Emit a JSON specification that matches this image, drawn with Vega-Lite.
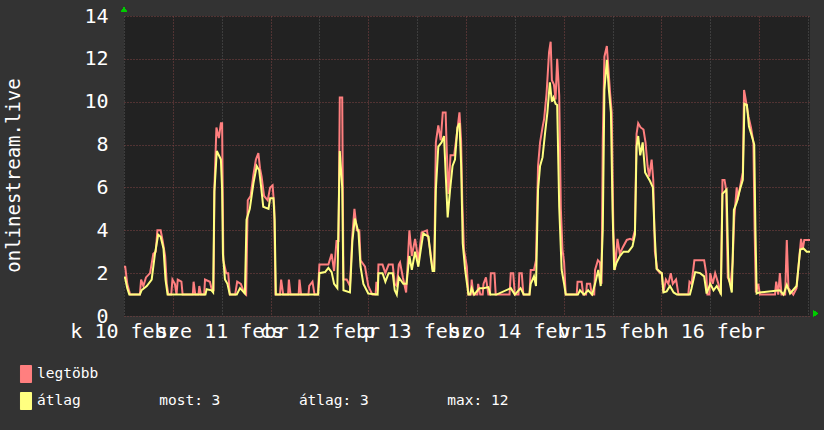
{
"$schema": "https://vega.github.io/schema/vega-lite/v6.json",
"width": 686,
"height": 300,
"autosize": {"type": "none"},
"padding": {"left": 124, "top": 16, "right": 14, "bottom": 114},
"background": "#333333",
"config": {"view": {"fill": "#222222", "stroke": null}, "font": "DejaVu Sans Mono"},
"data": {"values": [
{"s":"legtöbb","h":0,"v":2.3},{"s":"legtöbb","h":0.3,"v":2.3},{"s":"legtöbb","h":0.8,"v":1.5},{"s":"legtöbb","h":1.5,"v":1},{"s":"legtöbb","h":3.9,"v":1},{"s":"legtöbb","h":4.2,"v":1.7},{"s":"legtöbb","h":4.75,"v":1.4},{"s":"legtöbb","h":5.4,"v":1.8},{"s":"legtöbb","h":6.4,"v":2.0},{"s":"legtöbb","h":7.2,"v":2.9},{"s":"legtöbb","h":7.8,"v":3.0},{"s":"legtöbb","h":8.2,"v":4.0},{"s":"legtöbb","h":9.0,"v":4.0},{"s":"legtöbb","h":9.5,"v":3.5},{"s":"legtöbb","h":10.1,"v":2.8},{"s":"legtöbb","h":10.5,"v":1.5},{"s":"legtöbb","h":10.9,"v":1},{"s":"legtöbb","h":11.6,"v":1},{"s":"legtöbb","h":11.9,"v":1.7},{"s":"legtöbb","h":12.5,"v":1.5},{"s":"legtöbb","h":12.9,"v":1},{"s":"legtöbb","h":13.2,"v":1.7},{"s":"legtöbb","h":14.1,"v":1.6},{"s":"legtöbb","h":14.4,"v":1},{"s":"legtöbb","h":16.9,"v":1},{"s":"legtöbb","h":17.1,"v":1.6},{"s":"legtöbb","h":17.5,"v":1},{"s":"legtöbb","h":18.3,"v":1},{"s":"legtöbb","h":18.5,"v":1.4},{"s":"legtöbb","h":18.9,"v":1},{"s":"legtöbb","h":19.7,"v":1},{"s":"legtöbb","h":19.9,"v":1.7},{"s":"legtöbb","h":21.1,"v":1.6},{"s":"legtöbb","h":21.6,"v":1.2},{"s":"legtöbb","h":22.0,"v":1.2},{"s":"legtöbb","h":22.2,"v":5.9},{"s":"legtöbb","h":22.7,"v":8.8},{"s":"legtöbb","h":23.3,"v":8.3},{"s":"legtöbb","h":23.8,"v":9.0},{"s":"legtöbb","h":24.1,"v":9.0},{"s":"legtöbb","h":24.4,"v":2.6},{"s":"legtöbb","h":25.1,"v":2.0},{"s":"legtöbb","h":25.6,"v":2.0},{"s":"legtöbb","h":26.0,"v":1},{"s":"legtöbb","h":27.3,"v":1},{"s":"legtöbb","h":27.8,"v":1.6},{"s":"legtöbb","h":28.7,"v":1.5},{"s":"legtöbb","h":29.5,"v":1.1},{"s":"legtöbb","h":30.0,"v":1},{"s":"legtöbb","h":30.4,"v":5.4},{"s":"legtöbb","h":31.1,"v":5.6},{"s":"legtöbb","h":31.8,"v":6.6},{"s":"legtöbb","h":32.4,"v":7.3},{"s":"legtöbb","h":33.0,"v":7.6},{"s":"legtöbb","h":33.4,"v":6.9},{"s":"legtöbb","h":33.8,"v":6.5},{"s":"legtöbb","h":34.4,"v":5.6},{"s":"legtöbb","h":35.3,"v":5.4},{"s":"legtöbb","h":35.9,"v":6.0},{"s":"legtöbb","h":36.5,"v":6.1},{"s":"legtöbb","h":36.9,"v":5.1},{"s":"legtöbb","h":37.2,"v":1},{"s":"legtöbb","h":38.3,"v":1},{"s":"legtöbb","h":38.6,"v":1.7},{"s":"legtöbb","h":39.1,"v":1},{"s":"legtöbb","h":40.3,"v":1},{"s":"legtöbb","h":40.5,"v":1.7},{"s":"legtöbb","h":40.9,"v":1},{"s":"legtöbb","h":42.9,"v":1},{"s":"legtöbb","h":43.1,"v":1.7},{"s":"legtöbb","h":43.5,"v":1},{"s":"legtöbb","h":45.3,"v":1},{"s":"legtöbb","h":45.5,"v":1.4},{"s":"legtöbb","h":46.3,"v":1.6},{"s":"legtöbb","h":46.8,"v":1},{"s":"legtöbb","h":47.6,"v":1},{"s":"legtöbb","h":48.0,"v":2.4},{"s":"legtöbb","h":49.0,"v":2.4},{"s":"legtöbb","h":50.2,"v":2.4},{"s":"legtöbb","h":51.0,"v":2.9},{"s":"legtöbb","h":51.6,"v":2.1},{"s":"legtöbb","h":52.2,"v":3.5},{"s":"legtöbb","h":52.7,"v":3.5},{"s":"legtöbb","h":53.0,"v":10.2},{"s":"legtöbb","h":53.6,"v":10.2},{"s":"legtöbb","h":53.9,"v":1.7},{"s":"legtöbb","h":54.7,"v":1.7},{"s":"legtöbb","h":55.5,"v":1.4},{"s":"legtöbb","h":56.1,"v":3.8},{"s":"legtöbb","h":56.6,"v":5.0},{"s":"legtöbb","h":57.2,"v":4.0},{"s":"legtöbb","h":57.8,"v":4.0},{"s":"legtöbb","h":58.1,"v":2.6},{"s":"legtöbb","h":59.2,"v":2.3},{"s":"legtöbb","h":60.0,"v":1.4},{"s":"legtöbb","h":61.0,"v":1},{"s":"legtöbb","h":61.8,"v":1},{"s":"legtöbb","h":62.0,"v":1.6},{"s":"legtöbb","h":62.3,"v":1.2},{"s":"legtöbb","h":62.5,"v":2.4},{"s":"legtöbb","h":63.5,"v":2.4},{"s":"legtöbb","h":64.2,"v":2.0},{"s":"legtöbb","h":65.0,"v":2.4},{"s":"legtöbb","h":66.0,"v":2.4},{"s":"legtöbb","h":66.5,"v":1.5},{"s":"legtöbb","h":67.0,"v":1.4},{"s":"legtöbb","h":67.5,"v":2.4},{"s":"legtöbb","h":67.8,"v":2.5},{"s":"legtöbb","h":68.5,"v":1.8},{"s":"legtöbb","h":69.3,"v":1.1},{"s":"legtöbb","h":70.1,"v":4.0},{"s":"legtöbb","h":70.7,"v":2.8},{"s":"legtöbb","h":71.5,"v":3.6},{"s":"legtöbb","h":72.3,"v":2.6},{"s":"legtöbb","h":73.1,"v":3.9},{"s":"legtöbb","h":74.4,"v":4.0},{"s":"legtöbb","h":75.2,"v":3.1},{"s":"legtöbb","h":75.8,"v":2.2},{"s":"legtöbb","h":76.2,"v":2.2},{"s":"legtöbb","h":76.6,"v":8.1},{"s":"legtöbb","h":77.2,"v":8.9},{"s":"legtöbb","h":77.8,"v":8.2},{"s":"legtöbb","h":78.3,"v":9.5},{"s":"legtöbb","h":79.0,"v":9.5},{"s":"legtöbb","h":79.3,"v":7.6},{"s":"legtöbb","h":79.7,"v":5.7},{"s":"legtöbb","h":80.2,"v":7.5},{"s":"legtöbb","h":81.1,"v":7.5},{"s":"legtöbb","h":81.7,"v":8.4},{"s":"legtöbb","h":82.4,"v":9.5},{"s":"legtöbb","h":82.8,"v":8.2},{"s":"legtöbb","h":83.1,"v":5.3},{"s":"legtöbb","h":83.5,"v":3.1},{"s":"legtöbb","h":84.2,"v":2.3},{"s":"legtöbb","h":84.6,"v":1},{"s":"legtöbb","h":85.2,"v":1},{"s":"legtöbb","h":85.4,"v":1.7},{"s":"legtöbb","h":85.8,"v":1},{"s":"legtöbb","h":86.8,"v":1},{"s":"legtöbb","h":87.0,"v":1.5},{"s":"legtöbb","h":87.5,"v":1},{"s":"legtöbb","h":88.1,"v":1},{"s":"legtöbb","h":88.3,"v":1.5},{"s":"legtöbb","h":88.9,"v":1.8},{"s":"legtöbb","h":89.5,"v":1},{"s":"legtöbb","h":89.9,"v":1},{"s":"legtöbb","h":90.1,"v":2.0},{"s":"legtöbb","h":91.0,"v":2.0},{"s":"legtöbb","h":91.3,"v":1},{"s":"legtöbb","h":94.7,"v":1},{"s":"legtöbb","h":95.0,"v":2.0},{"s":"legtöbb","h":95.6,"v":2.0},{"s":"legtöbb","h":96.0,"v":1},{"s":"legtöbb","h":96.9,"v":1},{"s":"legtöbb","h":97.1,"v":2.0},{"s":"legtöbb","h":97.7,"v":2.0},{"s":"legtöbb","h":98.1,"v":1},{"s":"legtöbb","h":99.6,"v":1},{"s":"legtöbb","h":99.9,"v":2.15},{"s":"legtöbb","h":100.7,"v":2.15},{"s":"legtöbb","h":101.2,"v":2.6},{"s":"legtöbb","h":101.7,"v":7.0},{"s":"legtöbb","h":102.2,"v":8.1},{"s":"legtöbb","h":102.8,"v":8.8},{"s":"legtöbb","h":103.2,"v":9.2},{"s":"legtöbb","h":103.8,"v":10.4},{"s":"legtöbb","h":104.4,"v":12.3},{"s":"legtöbb","h":104.8,"v":12.8},{"s":"legtöbb","h":105.1,"v":11.0},{"s":"legtöbb","h":105.6,"v":10.8},{"s":"legtöbb","h":106.0,"v":10.1},{"s":"legtöbb","h":106.4,"v":12.0},{"s":"legtöbb","h":106.9,"v":10.3},{"s":"legtöbb","h":107.3,"v":5.0},{"s":"legtöbb","h":107.7,"v":3.1},{"s":"legtöbb","h":108.1,"v":2.5},{"s":"legtöbb","h":108.5,"v":1},{"s":"legtöbb","h":111.2,"v":1},{"s":"legtöbb","h":111.4,"v":1.6},{"s":"legtöbb","h":112.4,"v":1.6},{"s":"legtöbb","h":112.8,"v":1},{"s":"legtöbb","h":113.5,"v":1},{"s":"legtöbb","h":113.7,"v":1.5},{"s":"legtöbb","h":114.5,"v":1.5},{"s":"legtöbb","h":114.9,"v":1},{"s":"legtöbb","h":115.5,"v":1},{"s":"legtöbb","h":115.7,"v":2.15},{"s":"legtöbb","h":116.4,"v":2.6},{"s":"legtöbb","h":116.9,"v":2.5},{"s":"legtöbb","h":117.3,"v":1.5},{"s":"legtöbb","h":117.6,"v":8.2},{"s":"legtöbb","h":118.0,"v":12.1},{"s":"legtöbb","h":118.6,"v":12.6},{"s":"legtöbb","h":119.0,"v":11.5},{"s":"legtöbb","h":119.4,"v":10.4},{"s":"legtöbb","h":119.8,"v":9.5},{"s":"legtöbb","h":120.2,"v":4.0},{"s":"legtöbb","h":120.6,"v":2.15},{"s":"legtöbb","h":121.2,"v":3.6},{"s":"legtöbb","h":121.8,"v":2.9},{"s":"legtöbb","h":122.5,"v":3.2},{"s":"legtöbb","h":123.5,"v":3.55},{"s":"legtöbb","h":124.3,"v":3.6},{"s":"legtöbb","h":124.9,"v":3.55},{"s":"legtöbb","h":125.5,"v":4.0},{"s":"legtöbb","h":125.9,"v":8.5},{"s":"legtöbb","h":126.3,"v":9.0},{"s":"legtöbb","h":126.9,"v":8.8},{"s":"legtöbb","h":127.6,"v":8.7},{"s":"legtöbb","h":128.1,"v":8.1},{"s":"legtöbb","h":128.6,"v":7.0},{"s":"legtöbb","h":129.0,"v":6.5},{"s":"legtöbb","h":129.6,"v":7.3},{"s":"legtöbb","h":130.0,"v":6.35},{"s":"legtöbb","h":130.4,"v":3.0},{"s":"legtöbb","h":131.0,"v":2.15},{"s":"legtöbb","h":131.7,"v":2.0},{"s":"legtöbb","h":132.1,"v":2.0},{"s":"legtöbb","h":132.5,"v":1.1},{"s":"legtöbb","h":133.1,"v":1.7},{"s":"legtöbb","h":133.7,"v":1.5},{"s":"legtöbb","h":134.3,"v":2.0},{"s":"legtöbb","h":134.8,"v":1.5},{"s":"legtöbb","h":135.6,"v":1.7},{"s":"legtöbb","h":136.2,"v":1},{"s":"legtöbb","h":138.6,"v":1},{"s":"legtöbb","h":138.9,"v":1.6},{"s":"legtöbb","h":139.4,"v":1.5},{"s":"legtöbb","h":140.1,"v":2.6},{"s":"legtöbb","h":142.5,"v":2.6},{"s":"legtöbb","h":143.0,"v":2.0},{"s":"legtöbb","h":143.3,"v":1},{"s":"legtöbb","h":143.8,"v":1},{"s":"legtöbb","h":144.0,"v":2.0},{"s":"legtöbb","h":144.6,"v":1.5},{"s":"legtöbb","h":145.2,"v":2.0},{"s":"legtöbb","h":146.0,"v":1.5},{"s":"legtöbb","h":146.6,"v":1},{"s":"legtöbb","h":147.0,"v":6.35},{"s":"legtöbb","h":147.5,"v":6.35},{"s":"legtöbb","h":147.9,"v":5.9},{"s":"legtöbb","h":148.3,"v":1.8},{"s":"legtöbb","h":149.0,"v":1.5},{"s":"legtöbb","h":149.5,"v":2.5},{"s":"legtöbb","h":149.9,"v":4.6},{"s":"legtöbb","h":150.5,"v":6.0},{"s":"legtöbb","h":150.7,"v":5.4},{"s":"legtöbb","h":151.3,"v":6.0},{"s":"legtöbb","h":152.0,"v":6.7},{"s":"legtöbb","h":152.3,"v":10.55},{"s":"legtöbb","h":152.8,"v":10.0},{"s":"legtöbb","h":153.4,"v":9.3},{"s":"legtöbb","h":154.0,"v":8.8},{"s":"legtöbb","h":154.6,"v":8.1},{"s":"legtöbb","h":154.9,"v":4.0},{"s":"legtöbb","h":155.2,"v":1.1},{"s":"legtöbb","h":155.8,"v":1.5},{"s":"legtöbb","h":156.2,"v":1},{"s":"legtöbb","h":159.9,"v":1},{"s":"legtöbb","h":160.2,"v":1.6},{"s":"legtöbb","h":160.7,"v":1},{"s":"legtöbb","h":161.1,"v":2.0},{"s":"legtöbb","h":161.5,"v":1},{"s":"legtöbb","h":162.4,"v":1},{"s":"legtöbb","h":162.8,"v":3.55},{"s":"legtöbb","h":163.2,"v":1.3},{"s":"legtöbb","h":164.4,"v":1},{"s":"legtöbb","h":165.2,"v":1.3},{"s":"legtöbb","h":165.9,"v":2.8},{"s":"legtöbb","h":166.3,"v":3.6},{"s":"legtöbb","h":166.7,"v":3.1},{"s":"legtöbb","h":167.1,"v":3.55},{"s":"legtöbb","h":168.5,"v":3.55},
{"s":"átlag","h":0,"v":1.8},{"s":"átlag","h":0.25,"v":1.8},{"s":"átlag","h":0.8,"v":1.3},{"s":"átlag","h":1.3,"v":1},{"s":"átlag","h":3.9,"v":1},{"s":"átlag","h":4.3,"v":1.2},{"s":"átlag","h":5.6,"v":1.4},{"s":"átlag","h":6.8,"v":1.7},{"s":"átlag","h":7.6,"v":2.9},{"s":"átlag","h":8.4,"v":3.8},{"s":"átlag","h":9.0,"v":3.7},{"s":"átlag","h":9.7,"v":3.15},{"s":"átlag","h":10.2,"v":1.7},{"s":"átlag","h":10.7,"v":1},{"s":"átlag","h":20.0,"v":1},{"s":"átlag","h":20.3,"v":1.25},{"s":"átlag","h":21.5,"v":1.2},{"s":"átlag","h":21.9,"v":1.1},{"s":"átlag","h":22.2,"v":5.8},{"s":"átlag","h":22.8,"v":7.7},{"s":"átlag","h":23.3,"v":7.5},{"s":"átlag","h":23.8,"v":7.3},{"s":"átlag","h":24.1,"v":5.9},{"s":"átlag","h":24.3,"v":2.9},{"s":"átlag","h":24.8,"v":1.7},{"s":"átlag","h":25.4,"v":1.5},{"s":"átlag","h":26.0,"v":1},{"s":"átlag","h":27.7,"v":1},{"s":"átlag","h":28.5,"v":1.3},{"s":"átlag","h":29.7,"v":1.05},{"s":"átlag","h":30.1,"v":4.5},{"s":"átlag","h":30.9,"v":5.0},{"s":"átlag","h":31.8,"v":6.2},{"s":"átlag","h":32.6,"v":7.0},{"s":"átlag","h":33.2,"v":6.8},{"s":"átlag","h":33.7,"v":6.0},{"s":"átlag","h":34.2,"v":5.1},{"s":"átlag","h":35.5,"v":5.0},{"s":"átlag","h":35.9,"v":5.5},{"s":"átlag","h":36.7,"v":5.5},{"s":"átlag","h":37.0,"v":4.5},{"s":"átlag","h":37.3,"v":1},{"s":"átlag","h":47.7,"v":1},{"s":"átlag","h":48.0,"v":2.0},{"s":"átlag","h":49.4,"v":2.05},{"s":"átlag","h":50.2,"v":2.25},{"s":"átlag","h":51.0,"v":2.05},{"s":"átlag","h":51.6,"v":1.5},{"s":"átlag","h":52.4,"v":1.3},{"s":"átlag","h":53.0,"v":7.7},{"s":"átlag","h":53.6,"v":6.0},{"s":"átlag","h":53.9,"v":1.2},{"s":"átlag","h":55.5,"v":1.1},{"s":"átlag","h":56.1,"v":3.5},{"s":"átlag","h":56.7,"v":4.55},{"s":"átlag","h":57.6,"v":3.9},{"s":"átlag","h":58.1,"v":2.3},{"s":"átlag","h":58.8,"v":1.5},{"s":"átlag","h":60.0,"v":1.05},{"s":"átlag","h":62.3,"v":1},{"s":"átlag","h":62.5,"v":2.0},{"s":"átlag","h":63.5,"v":2.0},{"s":"átlag","h":64.2,"v":1.6},{"s":"átlag","h":65.0,"v":2.0},{"s":"átlag","h":66.0,"v":2.0},{"s":"átlag","h":66.5,"v":1.2},{"s":"átlag","h":67.0,"v":1.0},{"s":"átlag","h":67.5,"v":1.8},{"s":"átlag","h":68.6,"v":1.5},{"s":"átlag","h":69.4,"v":1.5},{"s":"átlag","h":70.1,"v":2.8},{"s":"átlag","h":70.7,"v":2.15},{"s":"átlag","h":71.5,"v":3.0},{"s":"átlag","h":72.3,"v":2.3},{"s":"átlag","h":72.9,"v":3.1},{"s":"átlag","h":73.5,"v":3.85},{"s":"átlag","h":74.8,"v":3.7},{"s":"átlag","h":75.3,"v":2.8},{"s":"átlag","h":75.8,"v":2.1},{"s":"átlag","h":76.2,"v":2.1},{"s":"átlag","h":76.6,"v":5.9},{"s":"átlag","h":77.2,"v":7.9},{"s":"átlag","h":78.0,"v":8.1},{"s":"átlag","h":78.6,"v":8.4},{"s":"átlag","h":79.0,"v":6.7},{"s":"átlag","h":79.5,"v":4.6},{"s":"átlag","h":80.1,"v":5.9},{"s":"átlag","h":80.7,"v":7.0},{"s":"átlag","h":81.3,"v":7.3},{"s":"átlag","h":81.9,"v":8.8},{"s":"átlag","h":82.4,"v":9.0},{"s":"átlag","h":82.8,"v":7.1},{"s":"átlag","h":83.2,"v":3.4},{"s":"átlag","h":83.8,"v":2.15},{"s":"átlag","h":84.6,"v":1},{"s":"átlag","h":85.0,"v":1},{"s":"átlag","h":85.4,"v":1.3},{"s":"átlag","h":86.0,"v":1},{"s":"átlag","h":87.3,"v":1.3},{"s":"átlag","h":88.3,"v":1.3},{"s":"átlag","h":89.5,"v":1.35},{"s":"átlag","h":90.0,"v":1},{"s":"átlag","h":91.5,"v":1},{"s":"átlag","h":95.0,"v":1.3},{"s":"átlag","h":96.0,"v":1},{"s":"átlag","h":97.4,"v":1.3},{"s":"átlag","h":98.2,"v":1},{"s":"átlag","h":99.6,"v":1},{"s":"átlag","h":99.9,"v":1.5},{"s":"átlag","h":100.7,"v":1.85},{"s":"átlag","h":101.2,"v":1.4},{"s":"átlag","h":101.7,"v":5.9},{"s":"átlag","h":102.2,"v":7.0},{"s":"átlag","h":102.8,"v":7.4},{"s":"átlag","h":103.4,"v":8.5},{"s":"átlag","h":104.0,"v":9.5},{"s":"átlag","h":104.6,"v":10.9},{"s":"átlag","h":105.1,"v":10.0},{"s":"átlag","h":105.5,"v":10.2},{"s":"átlag","h":106.0,"v":9.9},{"s":"átlag","h":106.4,"v":9.85},{"s":"átlag","h":106.9,"v":5.1},{"s":"átlag","h":107.5,"v":2.15},{"s":"átlag","h":108.1,"v":1.5},{"s":"átlag","h":108.5,"v":1},{"s":"átlag","h":111.5,"v":1},{"s":"átlag","h":112.0,"v":1.2},{"s":"átlag","h":113.0,"v":1},{"s":"átlag","h":114.0,"v":1.2},{"s":"átlag","h":115.0,"v":1},{"s":"átlag","h":115.7,"v":1.5},{"s":"átlag","h":116.5,"v":2.15},{"s":"átlag","h":117.1,"v":1.4},{"s":"átlag","h":117.6,"v":4.0},{"s":"átlag","h":118.0,"v":10.55},{"s":"átlag","h":118.6,"v":11.95},{"s":"átlag","h":119.1,"v":10.55},{"s":"átlag","h":119.6,"v":9.5},{"s":"átlag","h":120.0,"v":4.95},{"s":"átlag","h":120.4,"v":2.15},{"s":"átlag","h":121.0,"v":2.5},{"s":"átlag","h":121.8,"v":2.8},{"s":"átlag","h":122.7,"v":3.0},{"s":"átlag","h":123.9,"v":3.0},{"s":"átlag","h":124.9,"v":3.25},{"s":"átlag","h":125.5,"v":3.8},{"s":"átlag","h":125.9,"v":7.9},{"s":"átlag","h":126.3,"v":8.4},{"s":"átlag","h":126.8,"v":7.5},{"s":"átlag","h":127.4,"v":8.1},{"s":"átlag","h":128.0,"v":6.7},{"s":"átlag","h":128.6,"v":6.5},{"s":"átlag","h":129.2,"v":6.3},{"s":"átlag","h":129.9,"v":6.0},{"s":"átlag","h":130.3,"v":4.0},{"s":"átlag","h":130.8,"v":2.2},{"s":"átlag","h":132.1,"v":2.0},{"s":"átlag","h":132.5,"v":1.1},{"s":"átlag","h":133.3,"v":1.15},{"s":"átlag","h":134.1,"v":1.4},{"s":"átlag","h":135.0,"v":1.1},{"s":"átlag","h":135.8,"v":1},{"s":"átlag","h":139.0,"v":1},{"s":"átlag","h":139.4,"v":1.3},{"s":"átlag","h":140.3,"v":2.05},{"s":"átlag","h":141.5,"v":2.0},{"s":"átlag","h":142.5,"v":1.85},{"s":"átlag","h":143.1,"v":1.05},{"s":"átlag","h":144.0,"v":1.5},{"s":"átlag","h":144.8,"v":1.2},{"s":"átlag","h":145.6,"v":1.4},{"s":"átlag","h":146.6,"v":1.05},{"s":"átlag","h":147.0,"v":5.7},{"s":"átlag","h":148.0,"v":5.9},{"s":"átlag","h":148.5,"v":1.8},{"s":"átlag","h":149.3,"v":1.1},{"s":"átlag","h":149.8,"v":4.95},{"s":"átlag","h":150.5,"v":5.3},{"s":"átlag","h":151.3,"v":5.9},{"s":"átlag","h":152.0,"v":6.35},{"s":"átlag","h":152.4,"v":9.9},{"s":"átlag","h":153.0,"v":9.85},{"s":"átlag","h":153.5,"v":8.85},{"s":"átlag","h":154.2,"v":8.4},{"s":"átlag","h":154.8,"v":8.0},{"s":"átlag","h":155.1,"v":4.0},{"s":"átlag","h":155.4,"v":1.05},{"s":"átlag","h":156.1,"v":1.1},{"s":"átlag","h":161.1,"v":1.2},{"s":"átlag","h":162.0,"v":1},{"s":"átlag","h":162.8,"v":1.45},{"s":"átlag","h":163.6,"v":1.05},{"s":"átlag","h":165.2,"v":1.4},{"s":"átlag","h":166.1,"v":3.1},{"s":"átlag","h":166.9,"v":3.15},{"s":"átlag","h":167.7,"v":3.0},{"s":"átlag","h":168.5,"v":3.0}
]},
"layer": [
{
"mark": {"type": "line", "strokeWidth": 2, "interpolate": "linear"},
"encoding": {
"x": {"field": "h", "type": "quantitative",
"scale": {"domain": [0, 168.5], "nice": false, "zero": false},
"axis": {
"values": [0,6,12,18,24,30,36,42,48,54,60,66,72,78,84,90,96,102,108,114,120,126,132,138,144,150,156,162,168],
"labelExpr": "datum.value % 24 === 0 && datum.value < 168 ? ['k 10 febr','sze 11 febr','cs 12 febr','p 13 febr','szo 14 febr','v 15 febr','h 16 febr'][datum.value / 24] : ''",
"labelFont": "DejaVu Sans Mono", "labelFontSize": 20, "labelColor": "#ffffff",
"labelOverlap": false, "labelFlush": false, "labelBound": false,
"ticks": false, "tickSize": 0, "domain": false, "labelPadding": 5,
"grid": true,
"gridColor": {"condition": {"test": "datum.value % 24 === 12", "value": "#804444"}, "value": "#585858"},
"gridDash": [1, 2], "gridWidth": 1,
"title": null
}},
"y": {"field": "v", "type": "quantitative",
"scale": {"domain": [0, 14], "nice": false},
"axis": {
"values": [0,0.5,1,1.5,2,2.5,3,3.5,4,4.5,5,5.5,6,6.5,7,7.5,8,8.5,9,9.5,10,10.5,11,11.5,12,12.5,13,13.5,14],
"labelExpr": "datum.value % 2 === 0 ? datum.label : ''",
"labelFont": "DejaVu Sans Mono", "labelFontSize": 20, "labelColor": "#ffffff",
"ticks": false, "tickSize": 0, "domain": false, "labelPadding": 16,
"grid": true,
"gridColor": {"condition": {"test": "datum.value % 2 === 0", "value": "#804444"}, "value": "#585858"},
"gridDash": [1, 2], "gridWidth": 1,
"title": "onlinestream.live",
"titleFont": "DejaVu Sans Mono", "titleFontSize": 19, "titleFontWeight": "normal",
"titleColor": "#ffffff", "titlePadding": 60, "titleY": 159
}},
"color": {"field": "s", "type": "nominal",
"scale": {"domain": ["legtöbb", "átlag"], "range": ["#ff7f7f", "#ffff80"]},
"legend": {
"orient": "none", "legendX": -107, "legendY": 349, "direction": "vertical",
"title": null, "padding": 0, "offset": 0,
"symbolType": "M-0.65,-1H0.65V1H-0.65Z", "symbolSize": 289,
"symbolStrokeWidth": 1, "symbolOpacity": 1,
"labelFont": "DejaVu Sans Mono", "labelFontSize": 14.5, "labelColor": "#ffffff",
"labelOffset": 2, "labelLimit": 1000, "rowPadding": 5,
"labelExpr": "datum.label === 'átlag' ? 'átlag\u00a0\u00a0\u00a0\u00a0\u00a0\u00a0\u00a0\u00a0\u00a0most: 3\u00a0\u00a0\u00a0\u00a0\u00a0\u00a0\u00a0\u00a0\u00a0átlag: 3\u00a0\u00a0\u00a0\u00a0\u00a0\u00a0\u00a0\u00a0\u00a0max: 12' : datum.label",
"encode": {"symbols": {"update": {"fill": {"scale": "color", "field": "value"}, "stroke": {"value": "#000000"}, "strokeWidth": {"value": 1}}}}
}}
}
},
{
"mark": {"type": "point", "shape": "triangle-up", "filled": true, "color": "#00cc00", "size": 30, "opacity": 1},
"encoding": {"x": {"datum": 0}, "y": {"datum": 14.3}}
},
{
"mark": {"type": "point", "shape": "triangle-right", "filled": true, "color": "#00cc00", "size": 30, "opacity": 1},
"encoding": {"x": {"datum": 169.9}, "y": {"datum": 0.12}}
}
]
}
